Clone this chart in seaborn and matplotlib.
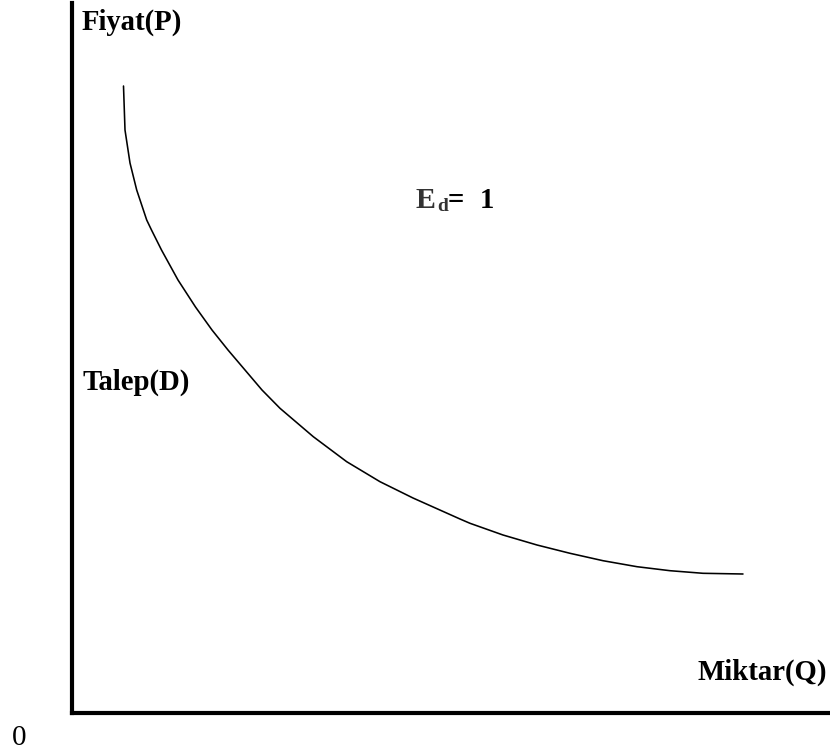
import matplotlib
matplotlib.use("Agg")
import matplotlib.pyplot as plt
import seaborn as sns
import pandas as pd

# Demand curve (quantity, price in arbitrary units)
quantity = [51.5, 53, 58, 64.7, 74.7, 79.5, 89.5, 106, 123.5, 140, 156, 173, 190,
            208, 241.3, 274.7, 308, 341, 388, 398, 431, 465, 498, 531, 565, 598, 631, 671]
price = [627, 583, 550, 523, 493, 483, 463, 433, 406, 383, 363, 343, 323,
         304.7, 276.3, 251.3, 231.3, 215, 194, 189.7, 178, 168, 159.7, 152.3, 146.3,
         142.3, 139.7, 139]

y_label = "Fiyat(P)"
x_label = "Miktar(Q)"
curve_label = "Talep(D)"
elasticity_symbol = "E"
elasticity_sub = "d"
elasticity_value = "1"
origin_label = "0"

sns.set_theme(style="white")
plt.rcParams["font.family"] = ["Liberation Serif", "DejaVu Serif"]
plt.rcParams["text.color"] = "black"

W, H = 830, 751
fig = plt.figure(figsize=(W / 100, H / 100), dpi=100)
ax = fig.add_axes([72 / W, (H - 713) / H, (W - 72) / W, 710 / H])

df = pd.DataFrame({"Q": quantity, "P": price})
sns.lineplot(data=df, x="Q", y="P", sort=False, color="black", linewidth=1.15, ax=ax)

ax.set_xlim(0, W - 72)
ax.set_ylim(0, 710)
ax.set_xticks([])
ax.set_yticks([])
ax.set_xlabel("")
ax.set_ylabel("")
for s in ["top", "right"]:
    ax.spines[s].set_visible(False)
for s in ["left", "bottom"]:
    ax.spines[s].set_color("black")
    ax.spines[s].set_linewidth(3.0)
    ax.spines[s].set_capstyle("projecting")

fs = 20.7
ax.text(10, 683, y_label, fontsize=fs, fontweight="bold", color="black", ha="left", va="baseline")
ax.text(10, 323, curve_label, fontsize=fs, fontweight="bold", color="black", ha="left", va="baseline")
ax.text(755, 33, x_label, fontsize=fs, fontweight="bold", color="black", ha="right", va="baseline")
ax.text(-60, -32, origin_label, fontsize=21, color="black", ha="left", va="baseline", clip_on=False)

ex, ey = 343, 505
ax.text(ex, ey, elasticity_symbol, fontsize=21.5, fontweight="bold", color="#333333",
        ha="left", va="baseline")
ax.annotate(elasticity_sub, xy=(ex, ey), xytext=(15.8, -2.5), textcoords="offset points",
            fontsize=14, fontweight="bold", color="#333333", ha="left", va="baseline")
ax.annotate("=", xy=(ex, ey), xytext=(23.8, 0), textcoords="offset points",
            fontsize=fs, fontweight="bold", color="black", ha="left", va="baseline")
ax.annotate(elasticity_value, xy=(ex, ey), xytext=(46.5, 0), textcoords="offset points",
            fontsize=fs, fontweight="bold", color="black", ha="left", va="baseline")

fig.savefig("out.png", dpi=100, facecolor="white")
